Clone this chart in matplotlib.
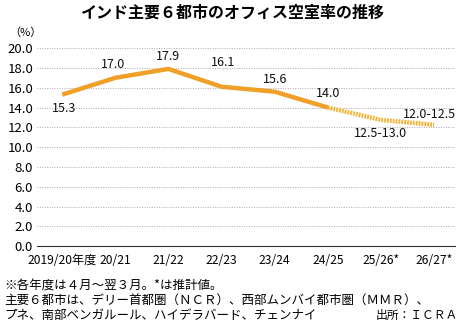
import matplotlib.pyplot as plt

plt.rcParams['font.family'] = ['Noto Sans CJK JP', 'DejaVu Sans']

# data
years = ['2019/20年度', '20/21', '21/22', '22/23', '23/24', '24/25', '25/26*', '26/27*']
actual = [15.3, 17.0, 17.9, 16.1, 15.6, 14.0]
forecast = [14.0, 12.75, 12.25]  # 24/25 actual, then midpoints of the ranges
labels = ['15.3', '17.0', '17.9', '16.1', '15.6', '14.0', '12.5-13.0', '12.0-12.5']
yticks = [0, 2, 4, 6, 8, 10, 12, 14, 16, 18, 20]

fig = plt.figure(figsize=(4.65, 3.23), dpi=100)
ax = fig.add_axes([0.08, 0.238, 0.898, 0.613])

x_act = list(range(len(actual)))
x_fc = list(range(len(actual) - 1, len(years)))
ax.plot(x_act, actual, color='#F0A028', lw=3.2, solid_capstyle='butt', zorder=3)
ax.plot(x_fc, forecast, color='#F5B030', lw=3.2, ls=(0, (0.4, 0.25)), zorder=3)

# label offsets in pixels (dx, dy)
offs = [(2, -14), (-2, 13), (0, 12), (2, 24), (0, 12), (0, 14), (0, -14), (22, 10)]
yvals = actual + forecast[1:]
for i, (lab, v) in enumerate(zip(labels, yvals)):
    dx, dy = offs[i]
    ha = 'right' if i == 7 else 'center'
    ax.annotate(lab, (i, v), xytext=(dx, dy), textcoords='offset pixels',
                ha=ha, va='center', fontsize=9, color='#111111')

ax.set_ylim(0, 20)
ax.set_xlim(-0.47, 7.39)
ax.set_yticks(yticks)
ax.set_yticklabels([f'{t:.1f}' for t in yticks], fontsize=9.5)
ax.set_xticks(range(len(years)))
ax.set_xticklabels(years, fontsize=8.7)
ax.tick_params(axis='y', length=0, pad=3)
ax.tick_params(axis='x', length=0, pad=6)
ax.yaxis.grid(True, ls=(0, (1, 1.5)), color='#aaaaaa', lw=0.7)
ax.set_axisbelow(True)
for s in ['top', 'right', 'left']:
    ax.spines[s].set_visible(False)
ax.spines['bottom'].set_color('#333333')
ax.spines['bottom'].set_linewidth(0.8)

fig.text(0.5, 0.962, 'インド主要６都市のオフィス空室率の推移', ha='center', va='center',
         fontsize=11.5, fontweight='bold')
fig.text(0.02, 0.898, '（%）', ha='left', va='center', fontsize=8)
fig.text(0.01, 0.118, '※各年度は４月～翌３月。*は推計値。', fontsize=9, va='center')
fig.text(0.01, 0.07, '主要６都市は、デリー首都圏（ＮＣＲ）、西部ムンバイ都市圏（ＭＭＲ）、',
         fontsize=9, va='center')
fig.text(0.01, 0.022, 'プネ、南部ベンガルール、ハイデラバード、チェンナイ', fontsize=9, va='center')
fig.text(0.985, 0.022, '出所：ＩＣＲＡ', fontsize=8.5, va='center', ha='right')

fig.savefig('out.png', dpi=100)
